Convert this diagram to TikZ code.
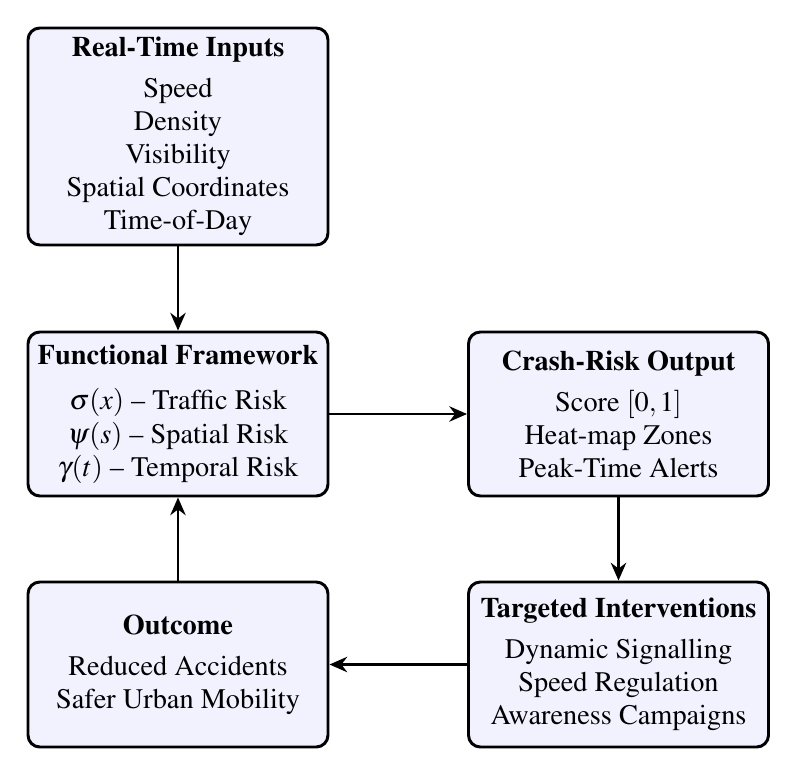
\documentclass[tikz,border=0pt]{standalone}
\usepackage[T1]{fontenc}
\usepackage{mathptmx}
\usetikzlibrary{arrows.meta}
\begin{document}
\begin{tikzpicture}[x=0.4237pt,y=-0.4237pt,
  box/.style={draw=black, line width=1.25pt, rounded corners=5pt, fill=blue!5,
    minimum width=300*0.4237pt, align=center, inner sep=0pt,
    font=\rmfamily\fontsize{12}{14}\selectfont},
  conn/.style={line width=1.2pt, -{Stealth[length=7.5pt,width=6.5pt]}}]
\useasboundingbox (0,0) rectangle (797,777);
\node[box, minimum height=217*0.4237pt] (inputs) at (178,136.5)
  {\textbf{Real-Time Inputs}\\[3.4pt] Speed\\ Density\\ Visibility\\ Spatial Coordinates\\ Time-of-Day};
\node[box, minimum height=164*0.4237pt] (frame) at (178,414)
  {\textbf{Functional Framework}\\[5pt] $\sigma(x)$ -- Traffic Risk\\[0.4pt] $\psi(s)$ -- Spatial Risk\\ $\gamma(t)$ -- Temporal Risk};
\node[box, minimum height=164*0.4237pt] (output) at (618.5,414)
  {\textbf{Crash-Risk Output}\\[3.4pt] Score $[0,1]$\\ Heat-map Zones\\ Peak-Time Alerts};
\node[box, minimum height=165*0.4237pt] (interv) at (618.5,664.5)
  {\textbf{Targeted Interventions}\\[3.4pt] Dynamic Signalling\\ Speed Regulation\\ Awareness Campaigns};
\node[box, minimum height=165*0.4237pt] (outcome) at (178,664.5)
  {\textbf{Outcome}\\[3.4pt] Reduced Accidents\\ Safer Urban Mobility};
\draw[conn] (inputs) -- (frame);
\draw[conn] (frame) -- (output);
\draw[conn] (output) -- (interv);
\draw[conn] (interv) -- (outcome);
\draw[conn] (outcome) -- (frame);
\end{tikzpicture}
\end{document}
